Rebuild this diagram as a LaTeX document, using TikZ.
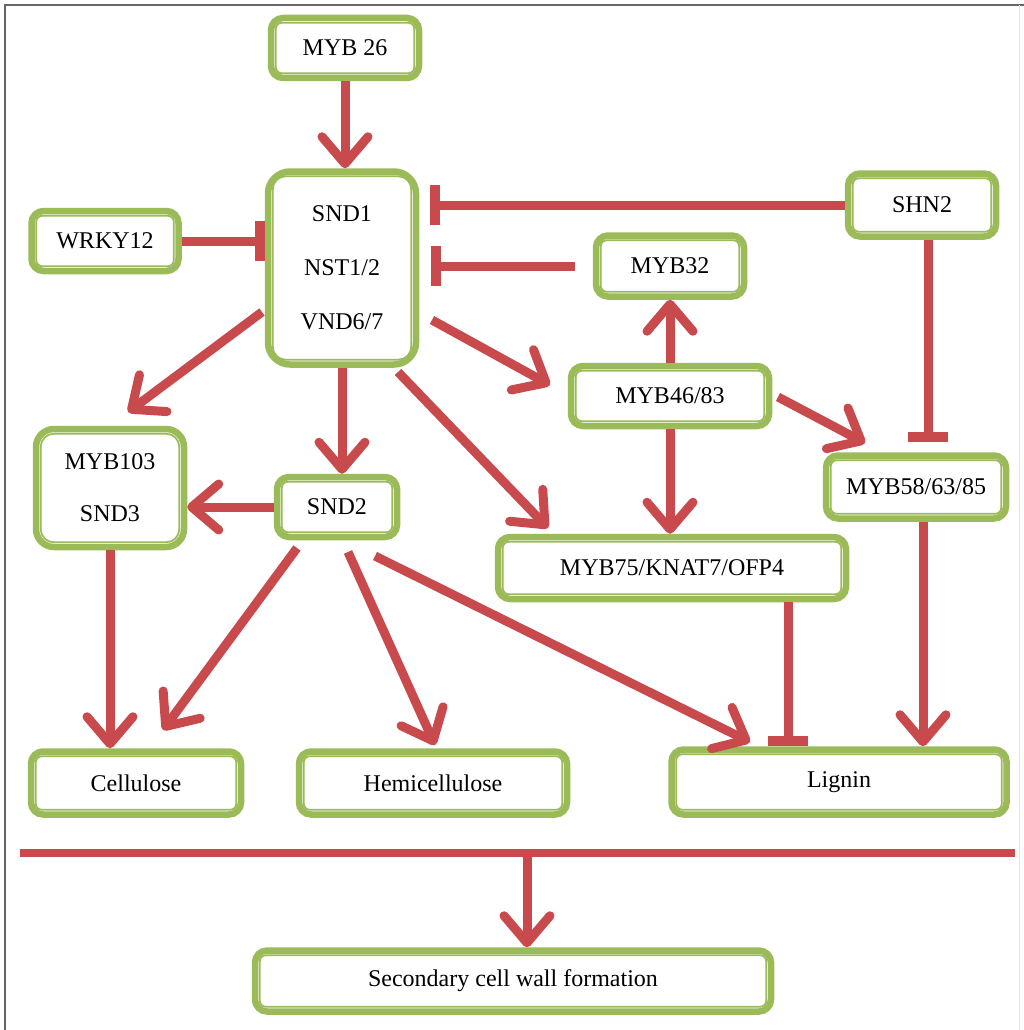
\documentclass[tikz,border=0pt]{standalone}
\usepackage{fontspec}
\setmainfont{Liberation Serif}
\usetikzlibrary{arrows.meta,calc}
\definecolor{boxgreen}{HTML}{9BBB59}
\definecolor{arrred}{HTML}{C84A4C}
\begin{document}
\begin{tikzpicture}[x=1pt,y=-1pt,
  box/.style={draw=boxgreen, line width=6.5pt, fill=white, rounded corners=12pt,
    inner sep=0pt, align=center, font=\fontsize{24}{28}\selectfont},
  innerline/.style={draw=boxgreen, line width=1.8pt, rounded corners=6pt},
  arr/.style={draw=arrred, line width=9pt, -{Straight Barb[round,length=27pt,width=46pt]}},
  inh/.style={draw=arrred, line width=9pt, -{Rectangle[length=10pt,width=40pt]}},
]
\useasboundingbox (0,0) rectangle (1024,1030);
\draw[gray!80!black, line width=1.5pt] (5,1030) -- (5,5) -- (1024,5);
\draw[gray!20, line width=1pt] (1019,5) -- (1019,1030);

\node[box, minimum width=148pt, minimum height=60pt] (myb26) at (345,48) {MYB 26};
\node[box, minimum width=148pt, minimum height=193pt, rounded corners=22pt] (snd) at (342,268)
  {SND1\\[26pt]NST1/2\\[26pt]VND6/7};
\node[box, minimum width=147pt, minimum height=60pt] (wrky) at (105,241) {WRKY12};
\node[box, minimum width=148pt, minimum height=63pt] (shn2) at (922,205) {SHN2};
\node[box, minimum width=148pt, minimum height=61pt] (myb32) at (670,266) {MYB32};
\node[box, minimum width=198pt, minimum height=60pt] (myb46) at (670,396) {MYB46/83};
\node[box, minimum width=148pt, minimum height=118pt, rounded corners=18pt] (myb103) at (110,488)
  {MYB103\\[24pt]SND3};
\node[box, minimum width=120pt, minimum height=60pt] (snd2) at (337,507) {SND2};
\node[box, minimum width=180pt, minimum height=63pt] (myb58) at (916,487) {MYB58/63/85};
\node[box, minimum width=348pt, minimum height=62pt] (myb75) at (672,568) {MYB75/KNAT7/OFP4};
\node[box, minimum width=210pt, minimum height=63pt] (cell) at (136,783) {Cellulose};
\node[box, minimum width=268pt, minimum height=63pt] (hemi) at (433,783) {Hemicellulose};
\node[box, minimum width=335pt, minimum height=65pt] (lignin) at (839,782) {Lignin};
\node[box, minimum width=516pt, minimum height=61pt] (scw) at (513,981) {Secondary cell wall formation};

\foreach \nn in {myb26,wrky,shn2,myb32,myb46,snd2,myb58,myb75,cell,hemi,lignin,scw}{
  \draw[innerline] ([shift={(8pt,-8pt)}]\nn.north west) rectangle ([shift={(-8pt,8pt)}]\nn.south east);
}
\foreach \nn in {snd,myb103}{
  \draw[innerline, rounded corners=13pt] ([shift={(8pt,-8pt)}]\nn.north west) rectangle ([shift={(-8pt,8pt)}]\nn.south east);
}

\coordinate (hl1) at (20,853);
\coordinate (hl2) at (1015,853);
\coordinate (hlm) at (527,853);

% arrows
\draw[arr] (myb26.south) -- (myb26.south |- snd.north);
\draw[inh, shorten >=11pt] (shn2.west) -- (shn2.west -| snd.east);
\draw[inh] (wrky.east) -- (wrky.east -| snd.west);
\draw[inh, shorten <=18pt, shorten >=12pt] (myb32.west) -- (myb32.west -| snd.east);
\draw[arr] ($(snd)+(-80,44)$) -- ($(myb103)+(18,-76)$);
\draw[arr] (snd.south) -- (snd.south |- snd2.north);
\draw[arr] ($(snd)+(90,52)$) -- ($(myb46)+(-120,-11)$);
\draw[arr] ($(snd)+(56,104)$) -- ($(myb75)+(-124,-40)$);
\draw[arr] (myb46.north) -- (myb46.north |- myb32.south);
\draw[arr] (myb46.south) -- (myb46.south |- myb75.north);
\draw[arr] ($(myb46)+(108,1)$) -- ($(myb58)+(-51,-44)$);
\draw[inh, shorten >=10pt] ([xshift=6pt]shn2.south) -- ([xshift=6pt]shn2.south |- myb58.north);
\draw[arr] (snd2.west) -- (snd2.west -| myb103.east);
\draw[arr] ($(snd2)+(-40,41)$) -- ($(cell)+(27,-53)$);
\draw[arr] ($(snd2)+(11,45)$) -- ($(hemi)+(2,-38)$);
\draw[arr] ($(snd2)+(38,49)$) -- ($(lignin)+(-89,-40)$);
\draw[arr] (myb103.south) -- (myb103.south |- cell.north);
\draw[inh] ([xshift=116pt]myb75.south) -- ([xshift=116pt]myb75.south |- lignin.north);
\draw[arr] ([xshift=7pt]myb58.south) -- ([xshift=7pt]myb58.south |- lignin.north);
\draw[draw=arrred, line width=8pt] (hl1) -- (hl2);
\draw[arr] (hlm) -- (hlm |- scw.north);
\end{tikzpicture}
\end{document}
